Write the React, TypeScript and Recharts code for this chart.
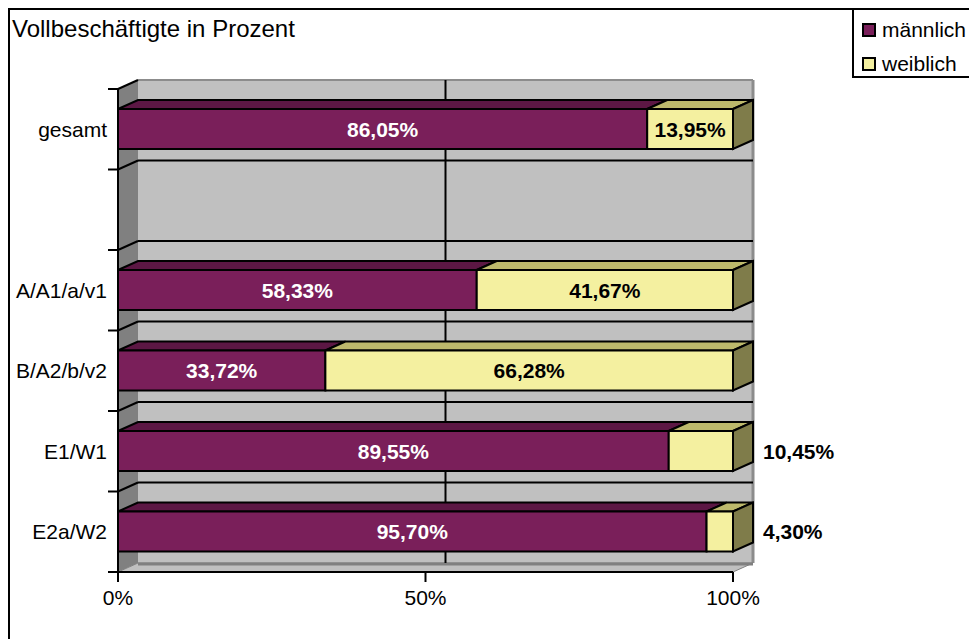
import React from "react";
import {
  BarChart,
  Bar,
  XAxis,
  YAxis,
  LabelList,
  usePlotArea,
} from "recharts";

const categories = ["gesamt", "", "A/A1/a/v1", "B/A2/b/v2", "E1/W1", "E2a/W2"];
const maennlich = [86.05, null, 58.33, 33.72, 89.55, 95.7];
const weiblich = [13.95, null, 41.67, 66.28, 10.45, 4.3];
const xTicks = [0, 50, 100];

const data = categories.map((name, i) => ({
  name,
  m: maennlich[i],
  w: weiblich[i],
}));

const FONT = "'Liberation Sans', Arial, sans-serif";
// 3D depth offset of the Excel look
const DX = 20;
const DY = 9;

const MALE = { front: "#7A1F5A", top: "#5C1744" };
const FEMALE = { front: "#F4F0A0", top: "#BDB96C", side: "#7F7C4A" };

const fmt = (v: number) => v.toFixed(2).replace(".", ",") + "%";

function Walls() {
  const area = usePlotArea();
  if (!area) return null;
  const { x, y, width, height } = area;
  const band = height / categories.length;
  const bounds = Array.from({ length: categories.length + 1 }, (_, i) => y + i * band);
  const bottom = y + height;
  return (
    <g>
      {/* back wall */}
      <rect x={x + DX} y={y - DY} width={width} height={height} fill="#C0C0C0" />
      <line x1={x + DX} y1={y - DY} x2={x + width + DX} y2={y - DY} stroke="#8C8C8C" strokeWidth={2} />
      <line x1={x + width + DX} y1={y - DY} x2={x + width + DX} y2={bottom - DY} stroke="#8C8C8C" strokeWidth={3} />
      {/* side wall */}
      <path
        d={`M${x},${y} L${x + DX},${y - DY} L${x + DX},${bottom - DY} L${x},${bottom} Z`}
        fill="#808080"
      />
      {/* floor */}
      <path
        d={`M${x},${bottom} L${x + DX},${bottom - DY} L${x + width + DX},${bottom - DY} L${x + width},${bottom} Z`}
        fill="#C0C0C0"
        stroke="#808080"
        strokeWidth={1}
      />
      <line x1={x + DX} y1={bottom - DY + 1} x2={x + width + DX} y2={bottom - DY + 1} stroke="#808080" strokeWidth={3} />
      {/* gridlines on back wall */}
      {xTicks.slice(1, -1).map((t) => {
        const gx = x + DX + (t / 100) * width;
        return <line key={t} x1={gx} y1={y - DY} x2={gx} y2={bottom - DY} stroke="#000" strokeWidth={2} />;
      })}
      {bounds.slice(1, -1).map((b, i) => (
        <line key={i} x1={x + DX} y1={b - DY} x2={x + width + DX} y2={b - DY} stroke="#000" strokeWidth={2} />
      ))}
      {/* category ticks at band boundaries */}
      {bounds.map((b, i) => (
        <g key={"t" + i}>
          <line x1={x - 10} y1={b} x2={x} y2={b} stroke="#000" strokeWidth={2} />
          {i < bounds.length - 1 && (
            <line x1={x} y1={b} x2={x + DX} y2={b - DY} stroke="#000" strokeWidth={2} />
          )}
        </g>
      ))}
    </g>
  );
}

function MaleShape(props: any) {
  const { x, y, width, height } = props;
  if (!width || width <= 0) return null;
  return (
    <g>
      <path
        d={`M${x},${y} L${x + DX},${y - DY} L${x + width + DX},${y - DY} L${x + width},${y} Z`}
        fill={MALE.top}
        stroke="#000"
        strokeWidth={2}
      />
      <rect x={x} y={y} width={width} height={height} fill={MALE.front} stroke="#000" strokeWidth={2} />
    </g>
  );
}

function FemaleShape(props: any) {
  const { x, y, width, height } = props;
  if (!width || width <= 0) return null;
  const r = x + width;
  return (
    <g>
      <path
        d={`M${x},${y} L${x + DX},${y - DY} L${r + DX},${y - DY} L${r},${y} Z`}
        fill={FEMALE.top}
        stroke="#000"
        strokeWidth={2}
      />
      <path
        d={`M${r},${y} L${r + DX},${y - DY} L${r + DX},${y + height - DY} L${r},${y + height} Z`}
        fill={FEMALE.side}
        stroke="#000"
        strokeWidth={2}
      />
      <rect x={x} y={y} width={width} height={height} fill={FEMALE.front} stroke="#000" strokeWidth={2} />
    </g>
  );
}

const maleLabel = (props: any) => {
  const { x, y, width, height, value } = props;
  if (value == null) return null;
  return (
    <text
      x={x + width / 2}
      y={y + height / 2}
      dy="0.36em"
      textAnchor="middle"
      fill="#fff"
      fontWeight="bold"
      fontSize={21}
      fontFamily={FONT}
    >
      {fmt(value)}
    </text>
  );
};

const femaleLabel = (props: any) => {
  const { x, y, width, height, value } = props;
  if (value == null) return null;
  const outside = value < 12;
  return (
    <text
      x={outside ? x + width + DX + 10 : x + width / 2}
      y={y + height / 2}
      dy="0.36em"
      textAnchor={outside ? "start" : "middle"}
      fill="#000"
      fontWeight="bold"
      fontSize={21}
      fontFamily={FONT}
    >
      {fmt(value)}
    </text>
  );
};

export default function App() {
  return (
    <div
      style={{
        position: "absolute",
        left: 0,
        top: 0,
        width: 969,
        height: 639,
        overflow: "hidden",
        background: "#fff",
        fontFamily: FONT,
      }}
    >
      {/* chart area frame */}
      <div
        style={{
          position: "absolute",
          left: 8,
          top: 8,
          width: 1100,
          height: 800,
          border: "2px solid #000",
        }}
      />
      <div
        style={{
          position: "absolute",
          left: 12,
          top: 17,
          fontSize: 24,
          lineHeight: "24px",
          color: "#000",
          whiteSpace: "nowrap",
        }}
      >
        Vollbeschäftigte in Prozent
      </div>
      <div style={{ position: "absolute", left: 0, top: 0 }}>
        <BarChart
          width={969}
          height={639}
          data={data}
          layout="vertical"
          margin={{ top: 89, right: 236, bottom: 27, left: 0 }}
          barSize={40}
        >
          <Walls />
          <XAxis
            type="number"
            domain={[0, 100]}
            ticks={xTicks}
            height={40}
            tickFormatter={(v) => `${v}%`}
            axisLine={{ stroke: "#000", strokeWidth: 2 }}
            tickLine={{ stroke: "#000", strokeWidth: 2 }}
            tickSize={10}
            tickMargin={8}
            tick={{ fill: "#000", fontSize: 21, fontFamily: FONT }}
          />
          <YAxis
            type="category"
            dataKey="name"
            width={118}
            axisLine={{ stroke: "#000", strokeWidth: 2 }}
            tickLine={false}
            tickMargin={5}
            interval={0}
            tick={{ fill: "#000", fontSize: 21, fontFamily: FONT }}
          />
          <Bar dataKey="m" stackId="a" shape={MaleShape} isAnimationActive={false}>
            <LabelList dataKey="m" content={maleLabel} />
          </Bar>
          <Bar dataKey="w" stackId="a" shape={FemaleShape} isAnimationActive={false}>
            <LabelList dataKey="w" content={femaleLabel} />
          </Bar>
        </BarChart>
      </div>
      {/* legend */}
      <div
        style={{
          position: "absolute",
          left: 852,
          top: 8,
          width: 140,
          height: 66,
          border: "2px solid #000",
          background: "#fff",
        }}
      >
        {[
          { label: "männlich", color: MALE.front },
          { label: "weiblich", color: FEMALE.front },
        ].map((it, i) => (
          <div key={it.label} style={{ position: "absolute", left: 8, top: 8 + i * 34, height: 24, display: "flex", alignItems: "center" }}>
            <span
              style={{
                width: 10,
                height: 10,
                border: "2px solid #000",
                background: it.color,
                display: "inline-block",
                marginRight: 6,
              }}
            />
            <span style={{ fontSize: 21, lineHeight: "24px", color: "#000" }}>{it.label}</span>
          </div>
        ))}
      </div>
    </div>
  );
}
